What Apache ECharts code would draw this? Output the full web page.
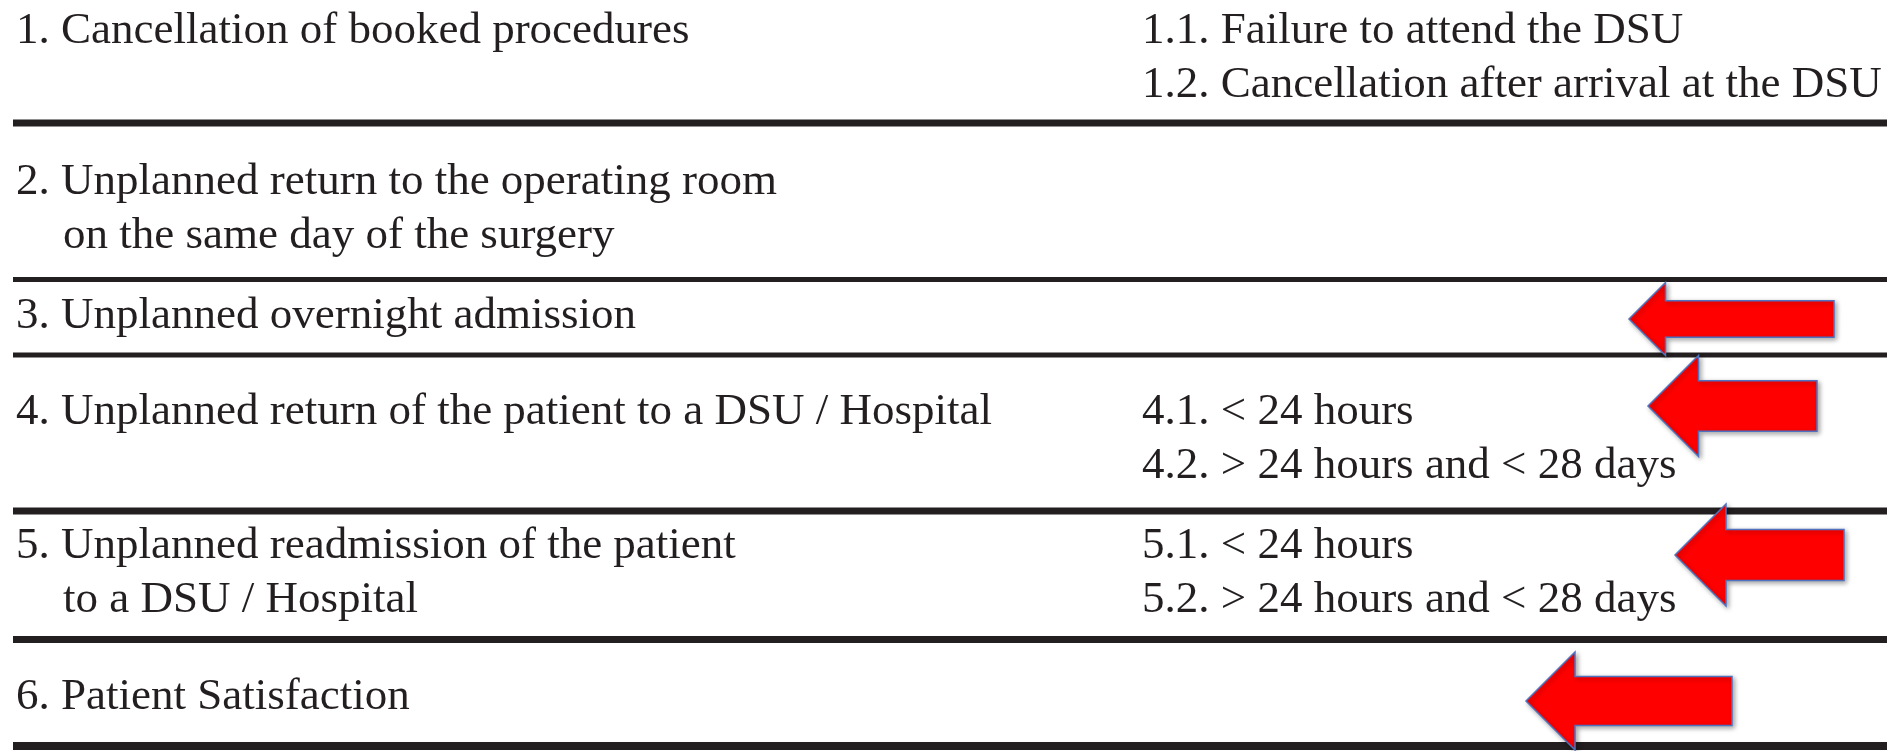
<!DOCTYPE html>
<html>
<head>
<meta charset="utf-8">
<title>Day surgery quality indicators</title>
<script src="https://cdn.jsdelivr.net/npm/echarts@6/dist/echarts.min.js"></script>
<style>
	html, body { margin: 0; padding: 0; background: #fff; }
	#chart { width: 1893px; height: 751px; }
</style>
</head>
<body>
<div id="chart"></div>
<script>
	// indicator rows, left column (first line + continuation line)
	var mainItems = [
		'1. Cancellation of booked procedures',
		'2. Unplanned return to the operating room',
		'3. Unplanned overnight admission',
		'4. Unplanned return of the patient to a DSU / Hospital',
		'5. Unplanned readmission of the patient',
		'6. Patient Satisfaction'
	];
	var mainCont = ['', 'on the same day of the surgery', '', '', 'to a DSU / Hospital', ''];
	// sub indicators, right column
	var subItems = [
		['1.1. Failure to attend the DSU', '1.2. Cancellation after arrival at the DSU'],
		[],
		[],
		['4.1. < 24 hours', '4.2. > 24 hours and < 28 days'],
		['5.1. < 24 hours', '5.2. > 24 hours and < 28 days'],
		[]
	];
	// page units (px of the original figure)
	var rowBaseline = [42, 193, 327, 423, 557, 708];
	var ruleY = [123, 279.5, 355, 511, 639.5, 746];
	// red arrows pointing at rows 3..6
	var arrowTipX = [1629, 1648, 1675, 1526];
	var arrowMidY = [319, 406, 555, 701];
	var arrowTailX = [1834, 1817, 1844, 1732];
	var arrowHead = [73, 101, 102, 98];

	// styles
	var INK = '#231f20';
	var FONT = '45px "Liberation Serif", "Times New Roman", serif';
	var LINE_GAP = 54;
	var colX = [16, 1142];
	var indentX = 63;
	var ruleWidth = [7, 5, 5, 7, 7, 8];
	var ruleFrom = 13, ruleTo = 1887;

	var textData = [];
	mainItems.forEach(function (t, i) {
		textData.push([colX[0], rowBaseline[i], t]);
		if (mainCont[i]) textData.push([indentX, rowBaseline[i] + LINE_GAP, mainCont[i]]);
		subItems[i].forEach(function (s, j) {
			textData.push([colX[1], rowBaseline[i] + j * LINE_GAP, s]);
		});
	});
	var ruleData = ruleY.map(function (y, i) { return [ruleFrom, y, ruleTo, i]; });
	var arrowData = arrowTipX.map(function (x, i) { return [x, arrowMidY[i], arrowTailX[i], arrowHead[i]]; });

	var chart = echarts.init(document.getElementById('chart'));
	var option = {
		animation: false,
		grid: { left: 0, right: 0, top: 0, bottom: 0 },
		xAxis: { type: 'value', min: 0, max: 1893, show: false },
		yAxis: { type: 'value', min: 0, max: 751, inverse: true, show: false },
		series: [
			{
				// horizontal rules
				type: 'custom',
				data: ruleData,
				renderItem: function (params, api) {
					var a = api.coord([api.value(0), api.value(1)]);
					var b = api.coord([api.value(2), api.value(1)]);
					var w = ruleWidth[api.value(3)];
					return {
						type: 'rect',
						shape: { x: a[0], y: a[1] - w / 2, width: b[0] - a[0], height: w },
						style: { fill: INK }
					};
				}
			},
			{
				// table text
				type: 'custom',
				data: textData,
				renderItem: function (params, api) {
					var p = api.coord([api.value(0), api.value(1)]);
					return {
						type: 'text',
						x: p[0],
						y: p[1] - 11,
						style: {
							text: textData[params.dataIndex][2],
							fill: INK,
							font: FONT,
							align: 'left',
							verticalAlign: 'middle'
						}
					};
				}
			},
			{
				// arrows
				type: 'custom',
				data: arrowData,
				z: 5,
				renderItem: function (params, api) {
					var tip = api.coord([api.value(0), api.value(1)]);
					var tail = api.coord([api.value(2), api.value(1)]);
					var h = api.value(3);
					var hl = h * 0.5, sh = h * 0.5;
					var bx = tip[0] + hl, cy = tip[1];
					var pts = [
						[tip[0], cy],
						[bx, cy - h / 2],
						[bx, cy - sh / 2],
						[tail[0], cy - sh / 2],
						[tail[0], cy + sh / 2],
						[bx, cy + sh / 2],
						[bx, cy + h / 2]
					];
					return {
						type: 'polygon',
						shape: { points: pts },
						style: {
							fill: '#ff0000',
							stroke: '#4f72c0',
							lineWidth: 1.5,
							shadowBlur: 5,
							shadowOffsetX: 2,
							shadowOffsetY: 2,
							shadowColor: 'rgba(0,0,0,0.35)'
						}
					};
				}
			}
		]
	};
	chart.setOption(option);
</script>
</body>
</html>
